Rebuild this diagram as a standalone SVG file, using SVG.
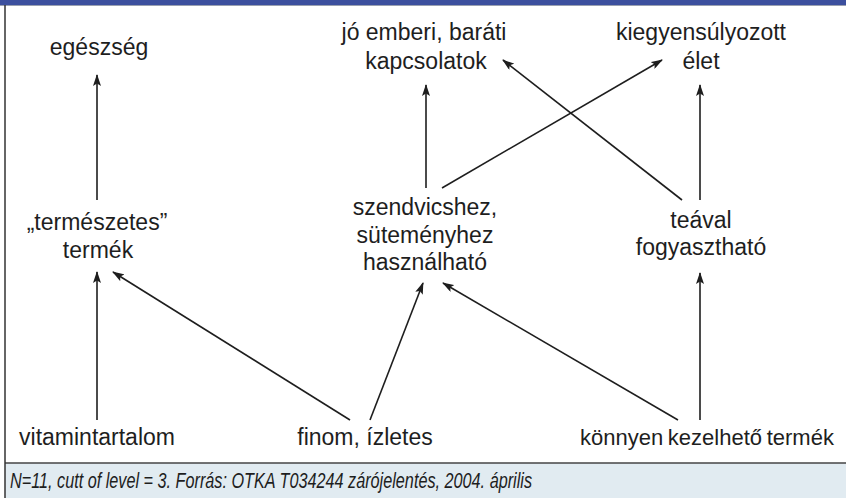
<svg xmlns="http://www.w3.org/2000/svg" width="846" height="498" viewBox="0 0 846 498">
<style>
.t{font-family:"Liberation Sans",Arial,Helvetica,sans-serif;font-size:23px;fill:#1e1e1e;text-anchor:middle}
.c{stroke:#1e1e1e;stroke-width:1.6;fill:none;marker-end:url(#ah)}
.cap{font-family:"Liberation Sans",Arial,sans-serif;font-size:22px;font-style:italic;fill:#1e1e1e}
</style>
<defs>
<marker id="ah" viewBox="0 0 12 8" refX="11" refY="4" markerWidth="12" markerHeight="8" markerUnits="userSpaceOnUse" orient="auto">
<path d="M0,0 L12,4 L0,8 L2.5,4 Z" fill="#1e1e1e"/>
</marker>
</defs>
<rect x="0" y="0" width="846" height="498" fill="#ffffff"/>
<rect x="0" y="0" width="846" height="5" fill="#3c4f9e"/>
<line x1="0" y1="5.5" x2="846" y2="5.5" stroke="#9aa0b0" stroke-width="1"/>
<rect x="5" y="463" width="841" height="35" fill="#e1ebf1"/>
<line x1="5" y1="463" x2="846" y2="463" stroke="#444" stroke-width="1.5"/>
<line x1="5" y1="5" x2="5" y2="498" stroke="#333" stroke-width="1.5"/>
<text class="cap" x="10" y="488" textLength="522" lengthAdjust="spacingAndGlyphs">N=11, cutt of level = 3. Forrás: OTKA T034244 zárójelentés, 2004. április</text>

<g id="connectors">
<line class="c" x1="97" y1="200" x2="97" y2="75"/>
<line class="c" x1="97" y1="420" x2="97" y2="272"/>
<line class="c" x1="350" y1="420" x2="113" y2="272"/>
<line class="c" x1="370" y1="420" x2="423" y2="283"/>
<line class="c" x1="678" y1="420" x2="443" y2="283"/>
<line class="c" x1="700" y1="420" x2="700" y2="273"/>
<line class="c" x1="426" y1="188" x2="426" y2="85"/>
<line class="c" x1="442" y1="188" x2="662" y2="60"/>
<line class="c" x1="682" y1="200" x2="503" y2="60"/>
<line class="c" x1="700" y1="200" x2="700" y2="85"/>
</g>

<g id="n-egeszseg"><text class="t" x="99" y="55">egészség</text></g>
<g id="n-kapcsolatok"><text class="t" x="424" y="40">jó emberi, baráti</text><text class="t" x="426" y="69">kapcsolatok</text></g>
<g id="n-kiegyensulyozott"><text class="t" x="701" y="40">kiegyensúlyozott</text><text class="t" x="701" y="69">élet</text></g>
<g id="n-termeszetes"><text class="t" x="97" y="230">„természetes”</text><text class="t" x="98" y="258">termék</text></g>
<g id="n-szendvicshez"><text class="t" x="425" y="215">szendvicshez,</text><text class="t" x="425" y="243">süteményhez</text><text class="t" x="425" y="270">használható</text></g>
<g id="n-teaval"><text class="t" x="701" y="228">teával</text><text class="t" x="701" y="255">fogyasztható</text></g>
<g id="n-vitamin"><text class="t" x="97" y="445">vitamintartalom</text></g>
<g id="n-finom"><text class="t" x="365" y="445">finom, ízletes</text></g>
<g id="n-konnyen"><text class="t" x="707" y="445" style="font-size:22px;word-spacing:-1.5px">könnyen kezelhető termék</text></g>
</svg>
